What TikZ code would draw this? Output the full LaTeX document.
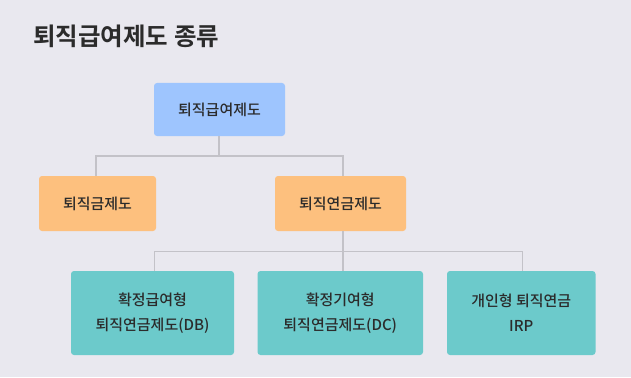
\documentclass[tikz,border=0pt]{standalone}
\usepackage{fontspec}
\newfontfamily\kr{Noto Sans CJK KR Medium}
\newfontfamily\krb{Noto Sans CJK KR Bold}
\definecolor{bg}{HTML}{E9E8EF}
\definecolor{blueb}{HTML}{9EC5FE}
\definecolor{orangeb}{HTML}{FDC07E}
\definecolor{tealb}{HTML}{6CCACB}
\definecolor{linec}{HTML}{C3C2C8}
\definecolor{txt}{HTML}{2B2B2B}
\begin{document}
\begin{tikzpicture}[x=1pt,y=-1pt,
  box/.style={rounded corners=3pt, draw=none, text=txt, font={\kr\fontsize{15}{25}\selectfont}, align=center, inner sep=0pt},
  conn/.style={draw=linec, line width=1.4pt}]
\fill[bg] (0,0) rectangle (631,377);
\useasboundingbox (0,0) rectangle (631,377);
\node[anchor=base west, text=txt, font={\krb\fontsize{24.5}{28}\selectfont}, inner sep=0pt] (title) at (33,46) {퇴직급여제도 종류};
% boxes
\fill[blueb, rounded corners=3pt] (154,83) rectangle (285,136);
\node[box] (top) at (219.5,109.5) {퇴직급여제도};
\fill[orangeb, rounded corners=3pt] (39,176) rectangle (156,231);
\node[box] (sev) at (97.5,203.5) {퇴직금제도};
\fill[orangeb, rounded corners=3pt] (275,176) rectangle (406,231);
\node[box] (pen) at (340.5,203.5) {퇴직연금제도};
\fill[tealb, rounded corners=3pt] (71,271) rectangle (234,355);
\node[box] (db) at (152.5,313) {확정급여형\\퇴직연금제도(DB)};
\fill[tealb, rounded corners=3pt] (257.5,271) rectangle (423,355);
\node[box] (dc) at (340.25,313) {확정기여형\\퇴직연금제도(DC)};
\fill[tealb, rounded corners=3pt] (447,271) rectangle (595.5,355);
\node[box] (irp) at (521.25,313) {개인형 퇴직연금\\IRP};
% named anchors for connectors
\coordinate (topb) at (219,136);
\coordinate (j1) at (219,156);
\coordinate (sevt) at (96,176);
\coordinate (pent) at (343,176);
\coordinate (penb) at (343,231);
\coordinate (j2) at (343,251.5);
\coordinate (dbt) at (154.5,271);
\coordinate (dct) at (343,271);
\coordinate (irpt) at (522.5,271);
\draw[conn] (topb) -- (j1);
\draw[conn] (sevt) |- (j1) -| (pent);
\draw[conn] (penb) -- (dct);
\draw[conn] (dbt) |- (j2) -| (irpt);
\end{tikzpicture}
\end{document}
